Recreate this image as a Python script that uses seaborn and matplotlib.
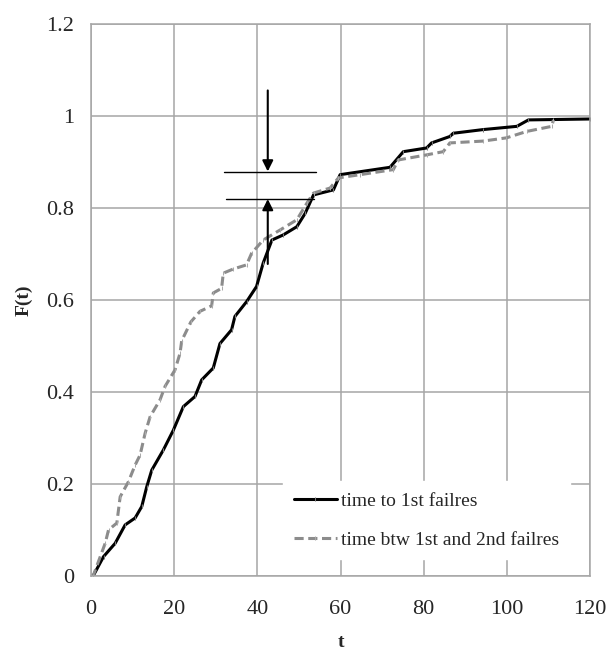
import numpy as np
import pandas as pd
import matplotlib
matplotlib.use("Agg")
import matplotlib.pyplot as plt
import seaborn as sns

t_first = [0, 0.5, 3.0, 5.8, 8.2, 10.6, 12.2, 13.4, 14.6, 17.4, 19.8, 22.2, 25.0,
           26.6, 29.4, 31.0, 33.8, 34.6, 37.4, 39.8, 41.4, 43.5, 46.2, 49.5, 51.5,
           53.5, 58.3, 59.9, 71.9, 75.1, 80.7, 81.9, 86.3, 87.1, 94.3, 102.4,
           105.2, 120]
F_first = [0, 0.0, 0.042, 0.071, 0.111, 0.126, 0.151, 0.194, 0.23, 0.274, 0.317,
           0.368, 0.39, 0.426, 0.452, 0.505, 0.535, 0.564, 0.596, 0.629, 0.68,
           0.73, 0.741, 0.759, 0.788, 0.828, 0.839, 0.872, 0.888, 0.922, 0.93,
           0.941, 0.955, 0.962, 0.97, 0.977, 0.991, 0.993]

t_second = [0, 0.5, 3.4, 4.2, 6.2, 7.0, 9.0, 10.6, 11.8, 13.0, 14.2, 16.6, 17.8,
            20.2, 21.4, 21.8, 24.0, 26.2, 29.0, 29.4, 31.4, 31.8, 34.2, 37.4,
            38.6, 41.4, 45.5, 49.5, 51.9, 53.5, 57.5, 59.5, 64.7, 72.7, 73.9,
            80.7, 84.7, 86.3, 94.3, 99.9, 104.8, 110.8, 111.2]
F_second = [0, 0.0, 0.071, 0.1, 0.115, 0.172, 0.205, 0.241, 0.263, 0.31, 0.346,
            0.383, 0.412, 0.448, 0.484, 0.511, 0.552, 0.575, 0.587, 0.615, 0.625,
            0.658, 0.667, 0.676, 0.701, 0.73, 0.752, 0.774, 0.81, 0.832, 0.843,
            0.865, 0.872, 0.883, 0.904, 0.915, 0.922, 0.941, 0.945, 0.952, 0.966,
            0.977, 0.991]

label_first = "time to 1st failres"
label_second = "time btw 1st and 2nd failres"

df1 = pd.DataFrame({"t": t_first, "F": F_first})
df2 = pd.DataFrame({"t": t_second, "F": F_second})

sns.set_style("white")
plt.rcParams["font.family"] = ["Liberation Serif", "DejaVu Serif"]

fig = plt.figure(figsize=(6.07, 6.59), dpi=100)
ax = fig.add_axes([0.15, 0.126, 0.822, 0.838])

sns.lineplot(data=df1, x="t", y="F", ax=ax, color="black", lw=2.2,
             label=label_first, marker="|", markersize=3,
             markeredgecolor="#777777", sort=False)
sns.lineplot(data=df2, x="t", y="F", ax=ax, color="#8c8c8c", lw=2.2,
             label=label_second, marker="|", markersize=3,
             markeredgecolor="#aaaaaa", sort=False)
ax.lines[1].set_dashes((3, 1.5))

# gap annotation
ax.plot([32, 54], [0.878, 0.878], color="black", lw=1)
ax.plot([32.5, 53.5], [0.82, 0.82], color="black", lw=1)
ax.annotate("", xy=(42.5, 0.879), xytext=(42.5, 1.055),
            arrowprops=dict(arrowstyle="-|>", color="black", lw=1.5,
                            mutation_scale=16, shrinkA=0, shrinkB=0))
ax.annotate("", xy=(42.5, 0.819), xytext=(42.5, 0.678),
            arrowprops=dict(arrowstyle="-|>", color="black", lw=1.5,
                            mutation_scale=16, shrinkA=0, shrinkB=0))

ax.set_xlim(0, 120)
ax.set_ylim(0, 1.2)
ax.set_xticks(np.arange(0, 121, 20))
ax.set_yticks([0, 0.2, 0.4, 0.6, 0.8, 1.0, 1.2])
ax.set_yticklabels(["0", "0.2", "0.4", "0.6", "0.8", "1", "1.2"])
ax.grid(True, color="#a6a6a6", lw=1.1)
for s in ax.spines.values():
    s.set_color("#a6a6a6")
    s.set_linewidth(1.1)
ax.tick_params(axis="both", length=0, labelsize=16)
ax.tick_params(axis="x", pad=17)
ax.tick_params(axis="y", pad=12)
ax.set_xlabel("t", fontsize=14, fontweight="bold", labelpad=11)
ax.set_ylabel("F(t)", fontsize=14, fontweight="bold", labelpad=10)

leg = ax.legend(loc="lower left", bbox_to_anchor=(0.385, 0.03),
                borderaxespad=0, frameon=True, fancybox=False,
                fontsize=14, handlelength=2.2, handletextpad=0.25,
                labelspacing=1.1, borderpad=0.55)
leg.get_frame().set_edgecolor("white")
leg.get_frame().set_facecolor("white")
leg.get_frame().set_alpha(1)

fig.savefig("out.png", dpi=100)
